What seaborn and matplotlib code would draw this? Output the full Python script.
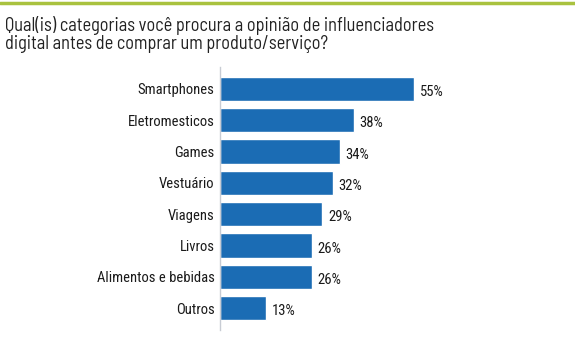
import matplotlib
matplotlib.use("Agg")
import matplotlib.pyplot as plt
import seaborn as sns
import pandas as pd
from matplotlib import font_manager

categories = ["Smartphones", "Eletromesticos", "Games", "Vestuário", "Viagens",
              "Livros", "Alimentos e bebidas", "Outros"]
values = [55, 38, 34, 32, 29, 26, 26, 13]
value_labels = ["55%", "38%", "34%", "32%", "29%", "26%", "26%", "13%"]
title_lines = ["Qual(is) categorias você procura a opinião de influenciadores",
               "digital antes de comprar um produto/serviço?"]

sns.set_theme(style="white")
names = {f.name for f in font_manager.fontManager.ttflist}

def pick(cands):
    for c in cands:
        if c in names:
            return c
    return "DejaVu Sans"

narrow = pick(["Roboto Condensed", "Barlow Condensed", "Archivo Narrow"])
tfont = pick(["Barlow Semi Condensed", "Roboto Condensed", "Archivo Narrow", "Roboto"])
plt.rcParams['font.family'] = [narrow, 'DejaVu Sans']

df = pd.DataFrame({"cat": categories, "val": values})

fig = plt.figure(figsize=(5.75, 3.38), dpi=100)
ax = fig.add_axes([220/575, 1-330/338, 340/575, (330-67)/338])
sns.barplot(data=df, x="val", y="cat", orient="h", color="#1b6cb4", width=0.78,
            saturation=1, ax=ax)
ax.set_xlim(0, 340/3.53)
ax.set_ylim(7.7, -0.7)
ax.set_xlabel("")
ax.set_ylabel("")
ax.set_xticks([])
for s in ["top", "right", "bottom"]:
    ax.spines[s].set_visible(False)
ax.spines["left"].set_color("#c8ccd4")
ax.spines["left"].set_linewidth(1)
ax.tick_params(axis="y", length=0, pad=4)
for lab in ax.get_yticklabels():
    lab.set_fontfamily(narrow)
    lab.set_fontsize(10.5)
    lab.set_color("#1a1a1a")
for i, (v, t) in enumerate(zip(values, value_labels)):
    ax.text(v + 1.6, i + 0.1, t, va="center", ha="left", fontsize=10.5,
            family=narrow, color="#1a1a1a")

fig.add_artist(plt.Line2D([0, 1], [1-3/338, 1-3/338], color="#a9c23f", lw=2.5,
                          transform=fig.transFigure))
for line, yb in zip(title_lines, [31, 49]):
    fig.text(5/575, 1-yb/338, line, ha="left", va="baseline", fontsize=13.2,
             family=tfont, color="#222222")

fig.savefig("out.png", dpi=100)
